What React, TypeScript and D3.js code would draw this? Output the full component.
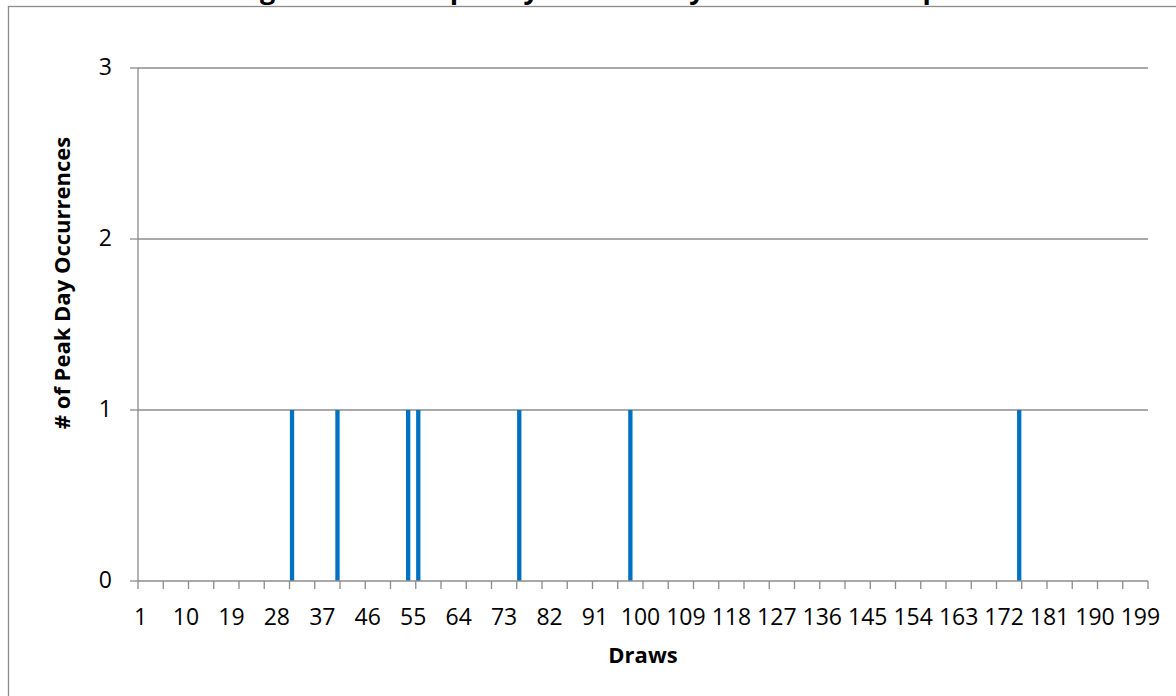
import React from "react";
import * as d3 from "d3";

// ---- data ----
const drawCategories: number[] = d3.range(1, 201); // draws 1..200 (category axis)
const peakDraws: number[] = [31, 40, 54, 56, 76, 98, 175];
const peakCounts: number[] = [1, 1, 1, 1, 1, 1, 1];
const yTickValues: number[] = [0, 1, 2, 3];
const xLabelEvery = 9;
const xTickEvery = 5;

const titleText = "Figure 3-10: Frequency of Peak Day Occurrences \u2013 Spokane";
const xTitle = "Draws";
const yTitle = "# of Peak Day Occurrences";

const W = 1176;
const H = 696;
const plot = { left: 138, right: 1148, top: 68, bottom: 581 };
const FONT = "'Open Sans', 'Noto Sans', sans-serif";
const GRAY = "#8c8c8c";
const BLUE = "#0070C0";

export default function App() {
  const x = d3
    .scaleBand<number>()
    .domain(drawCategories)
    .range([plot.left, plot.right])
    .paddingInner(0.15)
    .paddingOuter(0.075);
  const step = (plot.right - plot.left) / drawCategories.length;
  const y = d3.scaleLinear().domain([0, 3]).range([plot.bottom, plot.top]);

  const catCenter = (c: number) => plot.left + (drawCategories.indexOf(c) + 0.5) * step;
  const boundaries = d3.range(0, drawCategories.length + 1, xTickEvery).map((i) => plot.left + i * step);
  const labelCats = drawCategories.filter((c, i) => i % xLabelEvery === 0);
  const barW = x.bandwidth();

  const bars = peakDraws.map((d, i) => ({ draw: d, count: peakCounts[i] }));

  return (
    <svg width={W} height={H} style={{ position: "absolute", left: 0, top: 0, display: "block" }}>
      <rect x={0} y={0} width={W} height={H} fill="#ffffff" />
      {/* chart area border */}
      <rect x={8.5} y={6.5} width={W + 20} height={H + 20} fill="#ffffff" stroke={GRAY} strokeWidth={1.3} />
      {/* title (clipped at top) */}
      <text
        x={630}
        y={-1.5}
        textAnchor="middle"
        fontFamily={FONT}
        fontWeight="bold"
        fontSize={27}
        fill="#000"
      >
        {titleText}
      </text>

      {/* gridlines */}
      {yTickValues
        .filter((v) => v > 0)
        .map((v) => (
          <line key={"g" + v} x1={plot.left} x2={plot.right} y1={y(v)} y2={y(v)} stroke={GRAY} strokeWidth={1.3} />
        ))}

      {/* bars */}
      {bars.map((b) => (
        <rect
          key={"b" + b.draw}
          x={catCenter(b.draw) - barW / 2}
          y={y(b.count)}
          width={barW}
          height={y(0) - y(b.count)}
          fill={BLUE}
        />
      ))}

      {/* y axis */}
      <line x1={plot.left} x2={plot.left} y1={plot.top} y2={plot.bottom} stroke={GRAY} strokeWidth={1.3} />
      {yTickValues.map((v) => (
        <g key={"yt" + v}>
          <line x1={plot.left - 8} x2={plot.left} y1={y(v)} y2={y(v)} stroke={GRAY} strokeWidth={1.3} />
          <text
            x={112}
            y={y(v) + 7}
            textAnchor="end"
            fontFamily={FONT}
            fontSize={23}
            fill="#000"
          >
            {v}
          </text>
        </g>
      ))}

      {/* x axis */}
      <line x1={plot.left} x2={plot.right} y1={plot.bottom} y2={plot.bottom} stroke={GRAY} strokeWidth={1.3} />
      {boundaries.map((bx, i) => (
        <line key={"xt" + i} x1={bx} x2={bx} y1={plot.bottom} y2={plot.bottom + 8} stroke={GRAY} strokeWidth={1.3} />
      ))}
      {labelCats.map((c) => (
        <text
          key={"xl" + c}
          x={catCenter(c)}
          y={624.5}
          textAnchor="middle"
          fontFamily={FONT}
          fontSize={23}
          fill="#000"
        >
          {c}
        </text>
      ))}

      {/* axis titles */}
      <text
        x={(plot.left + plot.right) / 2}
        y={663}
        textAnchor="middle"
        fontFamily={FONT}
        fontWeight="bold"
        fontSize={22}
        fill="#000"
      >
        {xTitle}
      </text>
      <text
        transform={`translate(70, 283) rotate(-90)`}
        textAnchor="middle"
        fontFamily={FONT}
        fontWeight="bold"
        fontSize={22}
        fill="#000"
      >
        {yTitle}
      </text>
    </svg>
  );
}
